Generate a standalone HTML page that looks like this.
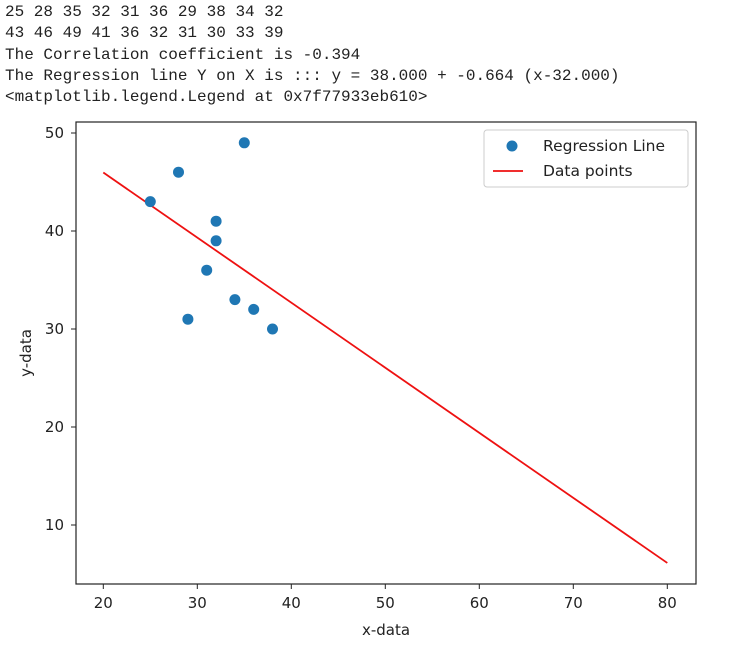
<!DOCTYPE html>
<html><head><meta charset="utf-8"><style>
body{margin:0;background:#fff;width:739px;height:651px;overflow:hidden;position:relative}
.out{position:absolute;left:5px;top:2px;font-family:"Liberation Mono",monospace;font-size:16px;line-height:21.3px;color:#222;white-space:pre}
svg{position:absolute;left:0;top:0}
text{font-family:"DejaVu Sans","Liberation Sans",sans-serif;fill:#222}
</style></head><body>
<div class="out">25 28 35 32 31 36 29 38 34 32
43 46 49 41 36 32 31 30 33 39
The Correlation coefficient is -0.394
The Regression line Y on X is ::: y = 38.000 + -0.664 (x-32.000)
&lt;matplotlib.legend.Legend at 0x7f77933eb610&gt;</div>
<svg id="chart" width="739" height="651"></svg>
<script>
const xData=[25,28,35,32,31,36,29,38,34,32];
const yData=[43,46,49,41,36,32,31,30,33,39];
const xTicks=[20,30,40,50,60,70,80];
const yTicks=[10,20,30,40,50];
const lineX=[20,80];
const intercept=38.0, slope=-0.664, xMean=32.0;
const L=76,R=696,T=122,B=584;
const sx=v=>103.3+(v-20)*9.4;
const sy=v=>133+(50-v)*9.8;
const svg=document.getElementById('chart');
const NS='http://www.w3.org/2000/svg';
function mk(t,a,p){const e=document.createElementNS(NS,t);for(const k in a)e.setAttribute(k,a[k]);(p||svg).appendChild(e);return e;}
const lp=lineX.map(x=>[sx(x),sy(intercept+slope*(x-xMean))]);
const ln=mk('line',{x1:lp[0][0],y1:lp[0][1],x2:lp[1][0],y2:lp[1][1],stroke:'#ee1111','stroke-width':1.8});


xData.forEach((x,i)=>{const c=mk('circle',{cx:sx(x),cy:sy(yData[i]),r:5.5,fill:'#1f77b4'});

});
const fr=mk('rect',{x:L,y:T,width:R-L,height:B-T,fill:'none',stroke:'#222','stroke-width':1.2});


xTicks.forEach(v=>{mk('line',{x1:sx(v),x2:sx(v),y1:B,y2:B+5,stroke:'#222'});
const t=mk('text',{x:sx(v),y:B+24,'text-anchor':'middle','font-size':15});t.textContent=v;

});
yTicks.forEach(v=>{mk('line',{x1:L-5,x2:L,y1:sy(v),y2:sy(v),stroke:'#222'});
const t=mk('text',{x:L-12,y:sy(v)+5,'text-anchor':'end','font-size':15});t.textContent=v;

});
const xl=mk('text',{x:386,y:635,'text-anchor':'middle','font-size':15});xl.textContent='x-data';


const yl=mk('text',{x:31,y:353,'text-anchor':'middle','font-size':15,transform:'rotate(-90 31 353)'});yl.textContent='y-data';


const lg=mk('g',{});


mk('rect',{x:484,y:130,width:204,height:57,rx:3,fill:'#fff',stroke:'#ccc'},lg);
mk('circle',{cx:512,cy:146,r:5.5,fill:'#1f77b4'},lg);
const t1=mk('text',{x:543,y:151,'font-size':15.5},lg);t1.textContent='Regression Line';


mk('line',{x1:493,x2:523,y1:171,y2:171,stroke:'#ee1111','stroke-width':1.8},lg);
const t2=mk('text',{x:543,y:176,'font-size':15.5},lg);t2.textContent='Data points';


</script>
</body></html>
